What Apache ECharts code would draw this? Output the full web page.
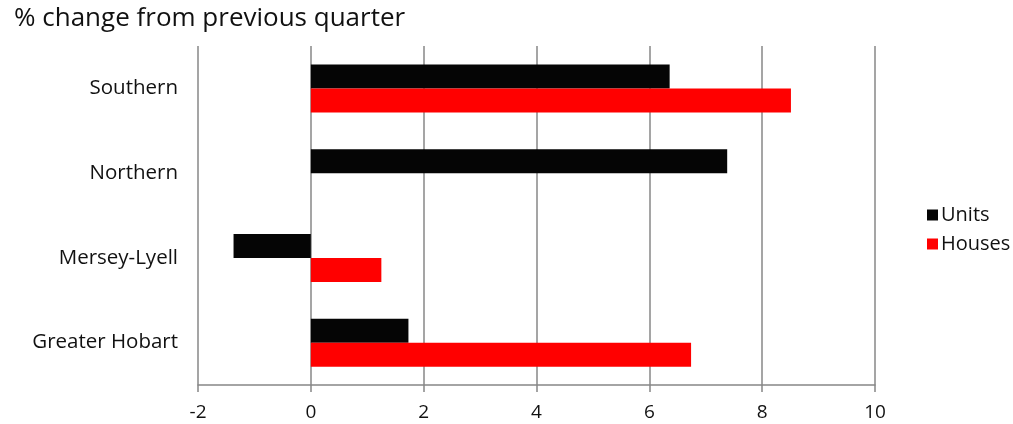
<!DOCTYPE html>
<html>
<head>
<meta charset="utf-8">
<script src="https://cdn.jsdelivr.net/npm/echarts@6/dist/echarts.min.js"></script>
<style>
  html, body { margin: 0; padding: 0; background: #fff; }
  #chart { width: 1013px; height: 424px; }
</style>
</head>
<body>
<div id="chart"></div>
<script>
// 地区（自下而上）
const regions = ['Greater Hobart', 'Mersey-Lyell', 'Northern', 'Southern']
const units = [1.73, -1.37, 7.38, 6.36]
const houses = [6.74, 1.25, 0, 8.51]
const xTicks = [-2, 0, 2, 4, 6, 8, 10]

const gridGray = '#878787'
const font = 'Open Sans'

const chart = echarts.init(document.getElementById('chart'))

chart.setOption({
  animation: false,
  textStyle: { fontFamily: font },
  title: {
    text: '% change from previous quarter',
    left: 9,
    top: 1,
    textStyle: { fontFamily: font, fontSize: 26, fontWeight: 'normal', color: '#111' }
  },
  legend: {
    data: ['Units', 'Houses'],
    orient: 'vertical',
    left: 922,
    top: 200,
    itemWidth: 11,
    itemHeight: 11,
    itemGap: 9,
    icon: 'rect',
    textStyle: { fontFamily: font, fontSize: 20, color: '#111', padding: [0, 0, 0, -2] }
  },
  grid: { left: 198, right: 138, top: 46, bottom: 39 },
  xAxis: {
    type: 'value',
    min: xTicks[0],
    max: xTicks[xTicks.length - 1],
    interval: 2,
    axisLine: { show: true, onZero: false, lineStyle: { color: gridGray, width: 1.5 } },
    axisTick: { show: true, length: 7, lineStyle: { color: gridGray, width: 1.5 } },
    axisLabel: { fontFamily: font, fontSize: 19, color: '#111', margin: 18 },
    splitLine: { show: true, lineStyle: { color: gridGray, width: 1.5 } }
  },
  yAxis: {
    type: 'category',
    data: regions,
    axisLine: { show: false },
    axisTick: { show: false },
    axisLabel: { fontFamily: font, fontSize: 20.5, color: '#111', margin: 20 }
  },
  series: [
    {
      name: 'Units',
      type: 'bar',
      data: units,
      barWidth: 24,
      barGap: '0%',
      itemStyle: { color: '#050505' }
    },
    {
      name: 'Houses',
      type: 'bar',
      data: houses,
      barWidth: 24,
      barGap: '0%',
      itemStyle: { color: '#ff0000' }
    }
  ]
})
</script>
</body>
</html>
